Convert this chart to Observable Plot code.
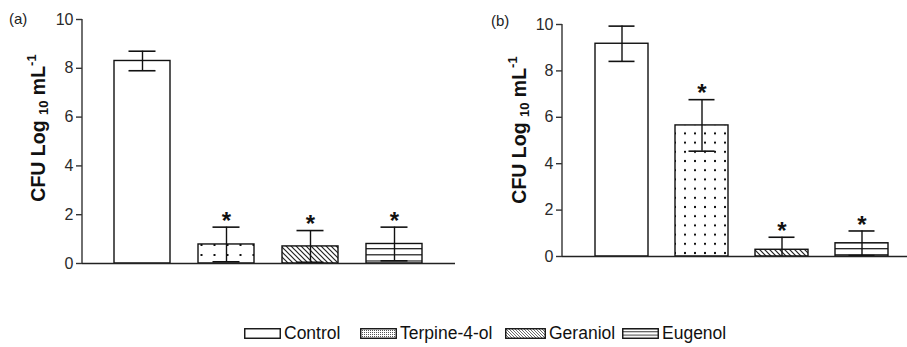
<!DOCTYPE html>
<html>
<head>
<meta charset="utf-8">
<script src="https://cdn.jsdelivr.net/npm/d3@7"></script>
<script src="https://cdn.jsdelivr.net/npm/@observablehq/plot@0.6"></script>
<style>
  html, body { margin: 0; padding: 0; background: #fff; }
  body { width: 907px; height: 347px; overflow: hidden; position: relative; font-family: "Liberation Sans", Arial, sans-serif; }
  .panel { position: absolute; top: 0; }
  .panel svg { max-width: none !important; display: block; }
  .plabel { position: absolute; font-size: 15px; color: #222; }
  #legend { position: absolute; top: 0; left: 0; width: 907px; height: 347px; pointer-events: none; }
  .item { position: absolute; top: 323px; display: flex; align-items: center; font-size: 17.5px; color: #111; }
  .item svg { margin-right: 3px; }
</style>
</head>
<body>
<div id="pa" class="panel" style="left:0px;width:460px"></div>
<div id="pb" class="panel" style="left:480px;width:441px"></div>
<div class="plabel" style="left:9px;top:10px">(a)</div>
<div class="plabel" style="left:491px;top:12px">(b)</div>
<div id="legend"></div>
<script>
// ---- data ----
const categories = ["Control", "Terpine-4-ol", "Geraniol", "Eugenol"];
const patternKeys = ["white", "dots", "hatch", "hlines"];
const meansA = [8.3, 0.78, 0.7, 0.8];
const errA   = [0.4, 0.71, 0.65, 0.69];
const starsA = [false, true, true, true];
const meansB = [9.17, 5.65, 0.29, 0.57];
const errB   = [0.76, 1.11, 0.54, 0.53];
const starsB = [false, true, true, true];
const yTicks = [0, 2, 4, 6, 8, 10];

function makeDefs(prefix, dotW, dotH) {
  const defs = d3.create("svg:defs");
  const pd = defs.append("pattern").attr("id", prefix + "dots").attr("patternUnits", "userSpaceOnUse")
    .attr("width", dotW).attr("height", dotH);
  pd.append("rect").attr("width", dotW).attr("height", dotH).attr("fill", "white");
  pd.append("rect").attr("x", dotW / 2 - 1).attr("y", dotH / 2 - 1).attr("width", 2).attr("height", 2).attr("fill", "#111");
  const ph = defs.append("pattern").attr("id", prefix + "hatch").attr("patternUnits", "userSpaceOnUse")
    .attr("width", 5).attr("height", 5);
  ph.append("rect").attr("width", 5).attr("height", 5).attr("fill", "white");
  ph.append("path").attr("d", "M0,0L5,5M-1,4L1,6M4,-1L6,1").attr("stroke", "#222").attr("stroke-width", 1.2);
  const pl = defs.append("pattern").attr("id", prefix + "hlines").attr("patternUnits", "userSpaceOnUse")
    .attr("width", 8).attr("height", 6.2);
  pl.append("rect").attr("width", 8).attr("height", 6.2).attr("fill", "white");
  pl.append("line").attr("x1", 0).attr("x2", 8).attr("y1", 0.6).attr("y2", 0.6).attr("stroke", "#222").attr("stroke-width", 1.3);
  return defs.node();
}

function panel(prefix, means, errs, stars, opts) {
  const data = categories.map((c, i) => ({
    cat: c,
    v: means[i],
    lo: Math.max(0, means[i] - errs[i]),
    hi: means[i] + errs[i],
    star: stars[i],
    fill: patternKeys[i] === "white" ? "white" : `url(#${prefix}${patternKeys[i]})`
  }));
  const chart = Plot.plot({
    width: opts.width, height: opts.height,
    marginLeft: 82, marginRight: opts.marginRight, marginTop: opts.marginTop, marginBottom: opts.marginBottom,
    style: { fontFamily: "'Liberation Sans', Arial, sans-serif", fontSize: "16px", color: "#333", background: "white" },
    x: { domain: categories, paddingInner: opts.pi, paddingOuter: opts.po, axis: null },
    y: { domain: [0, 10], label: null },
    color: { type: "identity" },
    marks: [
      Plot.barY(data, { x: "cat", y: "v", fill: "fill", stroke: "#111", strokeWidth: 1.4 }),
      Plot.ruleX(data, { x: "cat", y1: "lo", y2: "hi", stroke: "#111", strokeWidth: 1.4 }),
      Plot.tickY(data, { x: "cat", y: "hi", stroke: "#111", strokeWidth: 1.6, insetLeft: opts.inset, insetRight: opts.inset }),
      Plot.tickY(data.filter(d => d.lo > 0), { x: "cat", y: "lo", stroke: "#111", strokeWidth: 1.6, insetLeft: opts.inset, insetRight: opts.inset }),
      Plot.text(data.filter(d => d.star), { x: "cat", y: "hi", text: () => "*", dy: -6, fontSize: 24, fontWeight: "bold", fill: "#111" }),
      Plot.ruleY([0], { stroke: "#222", strokeWidth: 1.4 }),
      Plot.axisY({ ticks: yTicks, tickSize: 6, tickPadding: 3, stroke: "#333", strokeWidth: 1.4, fill: "#2a2a2a", fontSize: 16, label: null })
    ]
  });
  const svg = d3.select(chart);
  svg.insert(() => makeDefs(prefix, opts.dotW, opts.dotH), ":first-child");
  // make tick labels the reference's size
  svg.selectAll("g[aria-label*='tick label'], g[aria-label*='tick label'] text")
    .style("font-size", "16px");
  svg.append("line")
    .attr("x1", 82).attr("x2", 82)
    .attr("y1", opts.marginTop).attr("y2", opts.height - opts.marginBottom)
    .attr("stroke", "#333").attr("stroke-width", 1.4);
  const t = svg.append("text")
    .attr("transform", `translate(${opts.labelX},${opts.labelY}) rotate(-90)`)
    .attr("text-anchor", "middle")
    .attr("font-weight", "bold")
    .attr("font-size", 19.5)
    .attr("fill", "#111");
  t.append("tspan").text("CFU Log ");
  t.append("tspan").attr("font-size", 13).attr("dy", 3).text("10");
  t.append("tspan").attr("dy", -3).text(" mL");
  t.append("tspan").attr("font-size", 13).attr("dy", -9).text("-1");
  return chart;
}

document.getElementById("pa").appendChild(panel("a-", meansA, errA, starsA, {
  width: 460, height: 290, marginRight: 5, marginTop: 19, marginBottom: 27,
  pi: 0.33, po: 0.36, inset: 14.5, dotW: 13, dotH: 10, labelX: 45, labelY: 128
}));
document.getElementById("pb").appendChild(panel("b-", meansB, errB, starsB, {
  width: 441, height: 290, marginRight: 0, marginTop: 24, marginBottom: 34,
  pi: 0.333, po: 0.383, inset: 13.5, dotW: 10, dotH: 9.2, labelX: 46, labelY: 130
}));

// ---- legend ----
const legendX = [244, 360, 505, 622];
const leg = document.getElementById("legend");
categories.forEach((c, i) => {
  const div = document.createElement("div");
  div.className = "item";
  div.style.left = legendX[i] + "px";
  const key = patternKeys[i];
  const w = key === "hatch" ? 40 : 36;
  const s = d3.create("svg").attr("width", w + 1).attr("height", 11);
  const defs = s.append("defs");
  const id = "lg-" + key;
  if (key === "dots") {
    const p = defs.append("pattern").attr("id", id).attr("patternUnits", "userSpaceOnUse").attr("width", 2).attr("height", 2);
    p.append("rect").attr("width", 2).attr("height", 2).attr("fill", "white");
    p.append("rect").attr("width", 1).attr("height", 1).attr("fill", "#555");
  } else if (key === "hatch") {
    const p = defs.append("pattern").attr("id", id).attr("patternUnits", "userSpaceOnUse").attr("width", 3).attr("height", 3);
    p.append("rect").attr("width", 3).attr("height", 3).attr("fill", "white");
    p.append("path").attr("d", "M0,0L3,3M-1,2L1,4M2,-1L4,1").attr("stroke", "#444").attr("stroke-width", 0.8);
  } else if (key === "hlines") {
    const p = defs.append("pattern").attr("id", id).attr("patternUnits", "userSpaceOnUse").attr("width", 4).attr("height", 3.3);
    p.append("rect").attr("width", 4).attr("height", 3.3).attr("fill", "white");
    p.append("line").attr("x1", 0).attr("x2", 4).attr("y1", 0.5).attr("y2", 0.5).attr("stroke", "#333").attr("stroke-width", 1);
  }
  s.append("rect").attr("x", 0.75).attr("y", 0.75).attr("width", w - 0.5).attr("height", 9.5)
    .attr("fill", key === "white" ? "white" : `url(#${id})`).attr("stroke", "#111").attr("stroke-width", 1.4);
  div.appendChild(s.node());
  const span = document.createElement("span");
  span.textContent = c;
  div.appendChild(span);
  leg.appendChild(div);
});
</script>
</body>
</html>
